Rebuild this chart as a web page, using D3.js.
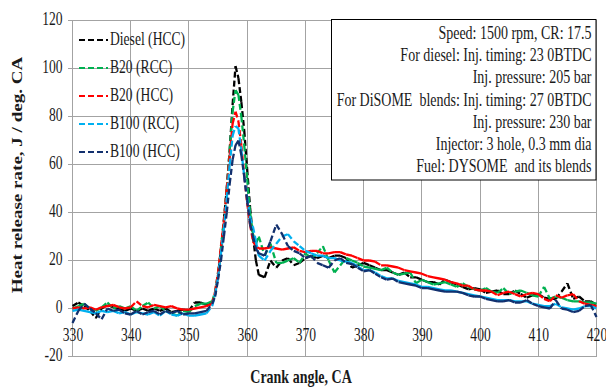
<!DOCTYPE html>
<html><head><meta charset="utf-8">
<script src="https://cdn.jsdelivr.net/npm/d3@7"></script>
<style>
html,body{margin:0;padding:0;background:#fff;}
svg{display:block;}
text{font-family:"Liberation Serif","Times New Roman",serif;fill:#1a1a1a;}
</style></head>
<body><svg id="c" width="606" height="388"></svg>
<script>
// ---------- data ----------
const angles = [330,331,332,333,334,335,336,337,338,339,340,341,342,343,344,345,346,347,348,349,350,351,352,353,354,
  354.5,355,355.5,356,356.5,357,357.5,358,358.5,359,359.5,360,360.5,361,361.5,362,
  363,364,365,366,367,368,369,370,371,372,373,374,375,376,377,378,379,380,381,382,383,384,385,386,387,388,389,390,
  391,392,393,394,395,396,397,398,399,400,401,402,403,404,405,406,407,408,409,410,411,412,413,414,415,416,417,418,419,420];

const dieselHCC = [1,2.5,1,-1,-4,0,1.5,0.5,0,-1,0,-1,0,-1,0,-1,0,-1.5,-1,-0.5,-1,2.5,2.5,1.5,2,
  6,14,25,37,50,66,85,101,96,86,74,58,42,30,20,14,
  13,20,17,20,21,18,19,21,22,21,22,21,22,22,21,17,18,19,18,17,16,16,15,14,15,13,13,12,11,11,10,12,11,10,9,8,8.5,8,6.5,7,7.5,6,6,7.5,6,4.5,5.5,6,4.5,4,4,7,10.5,4,5,3,3,1.5];

const b20RCC = [0,1,2,0,-1,0.5,2.5,0,1,0,1,-1,1,2.5,0,1,-1,-2,-3,-1,-1.5,1,2,2,3,
  7,15,25,36,50,66,82,91,89,80,68,54,40,31,27,30,
  22,27,19,19,20,21,19,23,21,23,26,20,15,18,21,20,19,17.5,17,16.5,16,17,15,14,14.5,15,10.5,12,11,10,10.5,11,10,9,10.5,9,8,7.5,8.5,7,6.5,8.5,6,7,7.5,6.5,5.5,5,9,4,5,4.5,3.5,3,3,2.5,2.5,2];

const b20HCC = [0,0.5,0,0.5,-0.5,0.5,1,1.5,0.5,0,0.5,3,1,0.5,1.5,1,0.5,1,0,-0.5,-0.5,0,0.5,1,2,
  7,15,26,36,50,64,77,82,78,68,55,44,35,28,26,25,
  25,25.5,25,24.5,25,25.5,24,23.5,24,24,23,23,23.5,23.5,22.5,22,21,20,20,19.5,18,18,17.5,17,16,15.5,15,14.5,13.5,13,12.5,12,11,10.5,9.5,9.5,8,7.5,7.5,7,5.5,6.5,7,6,5,6,6.5,6,4,3,5.5,4.5,5.5,6,3,2,1.5,1];

const b100RCC = [-1,-0.5,-1,-1.5,-2,-1,-1.5,-1,-2,-1.5,-2.5,-1.5,-2,-2.5,-1.5,-3,-1,-2.5,-3,-2,-3,-3,-2.5,-2,1,
  6,13,23,33,46,60,72,76,75,66,55,46,38,34,28,22,
  20,24,27,30,31,28,26,24,23,22,22,21,21,20,19.5,19,17.5,16,16,15,13.5,12.5,12.5,11.5,11,10.5,10,9,9,8.5,8,7.5,7.5,7,6.5,6,5.5,5,4.5,4,3.5,3.5,3.5,3,3,3,2,1.5,1,1,2,0.5,0,-0.5,0,1,1,0];

const b100HCC = [-6,-1,2,0,-2,-4.5,0,-1,-0.5,-2,-2.5,-1,-2.5,-1.5,-1,-2.5,-1,-2,-1,-2.5,-2,-2,-1.5,-1,2,
  5,12,20,30,40,52,62,68,70,64,55,45,35,30,25,23,
  22,28,35,31,26,24,23,21,22,19,18,17,20,21,19,18.5,17,15.5,16,14.5,13,12,12.5,11,10.5,10,9.5,8.5,8.5,8,7.5,7,7,7,6.5,5.5,5,5,4,3.5,3,3,3.5,2.5,2.5,3.5,2,1,0.5,0,3.5,0,-0.5,-1.5,-1,1,1.5,-3.5];

const seriesNames = ["Diesel (HCC)","B20 (RCC)","B20 (HCC)","B100 (RCC)","B100 (HCC)"];
const seriesValues = [dieselHCC,b20RCC,b20HCC,b100RCC,b100HCC];
const seriesColors = ["#000000","#00b050","#ff0000","#00b0f0","#12306e"];

const xTicks = [330,340,350,360,370,380,390,400,410,420];
const yTicks = [-20,0,20,40,60,80,100,120];

const noteLines = ["Speed: 1500 rpm, CR: 17.5",
  "For diesel: Inj. timing: 23 0BTDC",
  "Inj. pressure: 205 bar",
  "For DiSOME  blends: Inj. timing: 27 0BTDC",
  "Inj. pressure: 230 bar",
  "Injector: 3 hole, 0.3 mm dia",
  "Fuel: DYSOME  and its blends"];

const xTitle = "Crank angle, CA";
const yTitle = "Heat release rate, J / deg. CA";

// ---------- drawing ----------
const svg = d3.select("#c");
const SY = 1.36; // vertical stretch of the original artwork
const x = d3.scaleLinear().domain([330,420]).range([72.5,596.5]);
const y = d3.scaleLinear().domain([-20,120]).range([356.5,20.5]);
const fmt = d => String(d); // plain hyphen-minus like the original

// gridlines
const grid = svg.append("g").attr("stroke","#a3a3a3").attr("stroke-width",1).attr("shape-rendering","crispEdges");
grid.selectAll(".h").data(yTicks).join("line")
  .attr("x1",68).attr("x2",x(420)).attr("y1",d=>y(d)).attr("y2",d=>y(d));
grid.selectAll(".v").data(xTicks).join("line")
  .attr("x1",d=>x(d)).attr("x2",d=>x(d)).attr("y1",y(120)).attr("y2",y(-20));

// y axis labels
const yAx = svg.append("g").attr("transform",`translate(${x(330)},0)`)
  .call(d3.axisLeft(y).tickValues(yTicks).tickSize(0).tickPadding(10).tickFormat(fmt));
yAx.select(".domain").remove();
yAx.selectAll("text").attr("font-size",13.6).attr("font-family","Liberation Serif").attr("fill","#1a1a1a")
  .attr("dy",null).attr("y",0).attr("transform",`translate(0,4.4) scale(1,${SY})`);

// x axis labels (axis sits on y = 0)
const xAx = svg.append("g").attr("transform",`translate(0,${y(0)})`)
  .call(d3.axisBottom(x).tickValues(xTicks).tickSize(0).tickPadding(0).tickFormat(fmt));
xAx.select(".domain").remove();
xAx.selectAll("text").attr("font-size",13.6).attr("font-family","Liberation Serif").attr("fill","#1a1a1a")
  .attr("dy",null).attr("y",0).attr("transform",`translate(0,32.5) scale(1,${SY})`);

// series: each segment its own sub-path so the dash pattern restarts per segment (as in the source)
const seg = d3.line().x(p=>x(p[0])).y(p=>y(p[1]));
const plot = svg.append("g");
seriesValues.forEach((vals,k)=>{
  const pts = angles.map((a,i)=>[a, vals[i]]);
  const d = pts.slice(1).map((p,i)=>seg([pts[i], p])).join("");
  plot.append("path").attr("d",d)
    .attr("fill","none").attr("stroke",seriesColors[k]).attr("stroke-width",2.3)
    .attr("stroke-dasharray","6,3");
});

// legend
const leg = svg.append("g");
seriesNames.forEach((name,k)=>{
  const cy = 40 + k*28;
  leg.append("line").attr("x1",79).attr("x2",108).attr("y1",cy).attr("y2",cy)
    .attr("stroke",seriesColors[k]).attr("stroke-width",2.2).attr("stroke-dasharray","6,3");
  leg.append("text").attr("transform",`translate(110,${cy+5}) scale(1,${SY})`)
    .attr("font-size",13.6).text(name);
});

// annotation box
svg.append("rect").attr("x",331.5).attr("y",19.5).attr("width",264.5).attr("height",160.5)
  .attr("fill","#fff").attr("stroke","#000").attr("stroke-width",1);
noteLines.forEach((t,i)=>{
  svg.append("text").attr("transform",`translate(591.5,${39+i*22.2}) scale(1,1.3)`)
    .attr("text-anchor","end").attr("font-size",14).style("white-space","pre").text(t);
});

// axis titles
svg.append("text").attr("transform",`translate(301,383) scale(1,${SY})`)
  .attr("text-anchor","middle").attr("font-size",14).attr("font-weight","bold").text(xTitle);
svg.append("text").attr("transform",`translate(22,175) rotate(-90) scale(${SY},1)`)
  .attr("text-anchor","middle").attr("font-size",14).attr("font-weight","bold").text(yTitle);
</script></body></html>
